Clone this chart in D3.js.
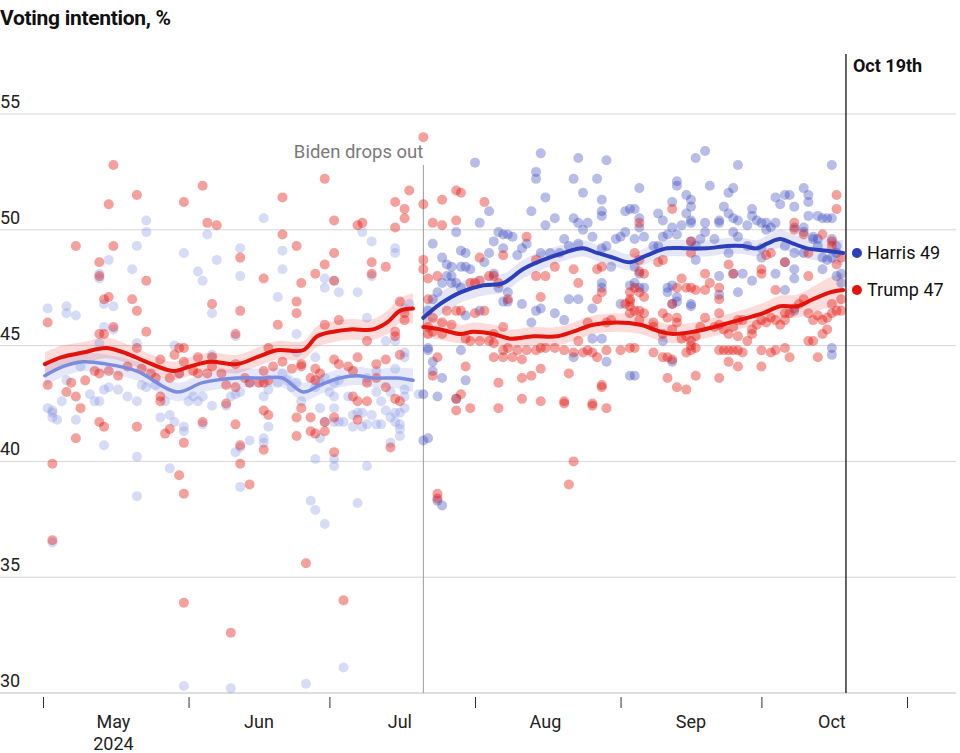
<!DOCTYPE html>
<html><head><meta charset="utf-8">
<script src="https://cdn.jsdelivr.net/npm/d3@7"></script>
<style>
body{margin:0;background:#fff;}
svg{display:block;font-family:Roboto,"Noto Sans",Arial,sans-serif;}
</style>
</head><body>
<svg id="chart" width="960" height="753"></svg>
<script>
// ---------- DATA ----------
const title = "Voting intention, %";
const yTicks = [30, 35, 40, 45, 50, 55];
const monthLabels = ["May", "Jun", "Jul", "Aug", "Sep", "Oct"];
const yearLabel = "2024";
// day offsets counted from 1 May 2024
const dropoutDay = 81;      // 21 Jul
const latestDay = 171;      // 19 Oct
const dropoutLabel = "Biden drops out";
const latestLabel = "Oct 19th";
const harrisLabel = "Harris 49";
const trumpLabel = "Trump 47";

// polls: [day, %]
const bidenPolls = [[22,50.4],[22,49.9],[20,49.3],[14,48.7],[30,49.0],[35,49.8],[37,48.7],[33,48.2],[34,47.8],[19,48.3],[12,48.1],[12,47.9],[13,46.8],[15,46.7],[1,46.6],[5,46.7],[5,46.4],[7,46.3],[42,49.2],[36,46.4],[42,48.0],[13,45.8],[15,45.7],[12,45.1],[20,45.1],[28,45.0],[41,45.4],[36,44.6],[8,44.1],[5,43.5],[10,42.9],[11,42.6],[12,42.6],[13,43.1],[14,43.2],[16,43.1],[18,42.8],[20,42.6],[21,43.3],[22,43.2],[24,43.3],[26,42.6],[29,43.8],[31,42.6],[32,42.8],[33,42.6],[34,42.8],[36,42.4],[39,42.4],[41,42.9],[4,42.6],[1,42.3],[2,42.2],
[2,42.1],[2,41.9],[3,41.8],[7,41.8],[13,40.7],[20,40.2],[25,41.9],[27,42.0],[28,41.7],[30,41.5],[30,41.3],[34,41.6],[27,39.7],[20,38.5],[2,36.5],[30,30.3],[40,30.2],[41,40.4],[42,38.9],
[47,50.5],[51,49.1],[51,48.3],[50,47.1],[60,47.9],[60,47.5],[62,47.8],[63,47.3],[67,47.3],[68,49.9],[70,49.5],[70,48.0],[75,49.2],[75,49.0],[69,46.2],[78,46.8],[77,46.6],[54,45.5],[58,44.5],[54,44.7],[73,45.2],[75,45.2],[77,44.7],[77,44.5],[75,44.0],[71,43.9],[69,43.6],[63,43.5],[60,43.6],[62,43.4],[58,43.2],[59,43.4],[54,43.4],[53,43.2],[52,43.5],[51,43.8],[50,43.4],[48,43.1],[47,42.8],[42,43.0],[40,42.8],[44,43.4],[65,42.8],[62,42.8],[61,43.0],[71,43.0],[72,42.6],[74,43.0],[77,43.1],[77,42.8],[80,42.9],[59,42.3],[62,42.3],
[55,42.6],[48,41.5],[44,40.9],[47,41.0],[47,40.8],[42,40.6],[59,41.0],[60,41.7],[62,41.7],[63,41.7],[64,41.7],[66,42.0],[67,42.1],[68,42.1],[70,42.0],[66,41.5],[68,41.5],[69,41.6],[71,41.6],[72,41.6],[73,42.2],[75,42.1],[76,42.1],[77,42.3],[74,41.9],[75,41.7],[76,41.6],[76,41.4],[76,41.1],[74,40.8],[58,40.1],[62,40.1],[62,39.8],[69,39.8],[57,38.3],[58,37.9],[60,37.3],[67,38.2],[64,31.1],[56,30.4]];

const trumpPollsPre = [[15,52.8],[20,51.5],[14,51.1],[34,51.9],[30,51.2],[35,50.3],[37,50.2],[7,49.3],[15,49.3],[12,48.6],[12,48.0],[22,47.8],[13,47.0],[14,47.1],[19,47.0],[20,46.5],[36,46.8],[42,46.5],[1,46.0],[22,45.6],[15,45.8],[12,45.5],[13,45.5],[20,44.9],[29,44.9],[30,44.9],[41,45.5],[28,44.6],[30,44.3],[33,44.5],[36,44.5],[25,44.4],[1,43.3],[5,43.0],[6,43.4],[7,42.8],[8,42.3],[9,43.5],[11,43.9],[12,43.8],[14,43.9],[16,43.7],[18,44.1],[21,44.0],[23,43.8],[24,43.6],[25,42.8],[27,43.6],[29,43.8],[32,43.9],[33,43.8],[35,43.8],[36,44.1],[38,43.8],[39,43.3],[39,42.5],[41,44.2],
[12,41.7],[13,41.5],[7,41.0],[20,41.5],[26,41.2],[27,41.4],[30,40.8],[34,41.7],[41,41.6],[2,39.9],[29,39.4],[30,38.6],[2,36.6],[30,33.9],[40,32.6],[42,40.7],[42,39.9],[25,42.6],
[60,52.2],[51,51.4],[78,51.7],[75,51.2],[77,50.9],[77,50.5],[62,50.4],[67,50.2],[68,50.3],[75,50.1],[51,49.8],[42,48.8],[54,49.3],[62,49.0],[60,48.5],[70,48.6],[73,48.4],[70,48.1],[58,48.1],[47,47.9],[55,47.7],[62,47.8],[54,46.9],[54,46.4],[50,45.9],[63,46.1],[60,45.9],[76,46.9],[77,46.4],[77,46.1],[75,45.6],[75,45.4],[69,45.2],[76,44.6],[73,44.4],[71,44.2],[67,44.5],[62,44.4],[63,44.2],[65,44.1],[66,43.9],[58,44.0],[59,43.8],[57,43.6],[58,43.5],[55,44.2],[55,44.1],[53,44.0],[51,44.3],[49,44.1],[47,43.9],[48,43.5],[48,44.9],[44,43.4],[46,43.4],[47,43.4],[43,43.6],[41,43.2],[69,43.4],[71,43.6],[66,42.8],[67,42.6],[75,42.7],[76,42.6],[73,43.2],[47,42.2],
[48,42.0],[55,42.3],[57,41.9],[54,41.9],[60,41.7],[60,41.3],[58,41.2],[57,41.3],[62,41.9],[67,41.8],[54,41.1],[47,40.5],[62,40.4],[74,40.6],[44,39.0],[56,35.6],[64,34.0],[69,42.6]];

const harrisPolls = [[106,53.3],[92,52.9],[114,53.1],[120,53.0],[105,52.5],[105,52.2],[113,52.2],[118,52.2],[115,51.6],[107,51.4],[119,51.3],[95,50.8],[104,50.8],[109,50.5],[113,50.5],[114,50.3],[116,50.3],[115,50.0],[119,50.8],[119,50.6],[124,50.8],[125,50.9],[93,50.3],[107,50.2],[88,49.9],[97,49.9],[98,49.8],[99,49.8],[100,49.7],[83,49.4],[103,49.4],[102,49.2],[101,48.9],[98,49.2],[96,49.5],[89,49.1],[90,49.0],[95,49.0],[106,49.0],[108,49.0],[110,49.0],[111,49.6],[112,49.3],[114,49.4],[117,49.7],[119,49.2],[120,49.3],[122,49.6],[123,49.7],[124,49.9],[85,48.8],[86,48.5],[87,48.4],[89,48.4],[90,48.4],[91,48.3],[94,48.6],[86,48.0],[85,47.7],[87,47.7],[88,47.7],[89,47.5],[87,48.0],[84,47.3],[83,47.0],[96,48.1],[97,47.5],[99,47.3],[99,46.9],[98,46.9],[102,46.8],[105,46.5],[106,46.6],[109,46.4],[111,46.1],[112,47.0],[114,47.0],[117,46.6],[119,47.7],[119,47.5],[121,48.4],[123,46.8],[125,47.6],[90,46.3],[104,46.0],[117,45.3],[119,45.3],[93,46.5],[82,46.5],[82,44.9],[82,44.8],[83,44.3],[83,43.9],[89,44.8],[85,43.6],[90,43.5],[88,42.7],[84,42.8],[81,42.9],[113,44.5],[120,44.3],[125,43.7],
[141,53.4],[139,53.1],[148,52.8],[168,52.8],[142,51.9],[127,51.8],[135,52.1],[135,51.9],[137,51.5],[138,51.3],[138,51.0],[134,51.2],[147,51.8],[146,51.6],[145,51.0],[146,50.7],[147,50.5],[126,50.9],[127,50.5],[127,50.1],[131,50.7],[132,50.4],[137,50.7],[138,50.4],[138,50.3],[141,50.3],[144,50.4],[144,50.3],[151,50.9],[151,50.6],[152,50.4],[153,50.3],[154,50.3],[156,50.3],[148,50.4],[150,50.2],[156,51.4],[157,51.1],[158,51.5],[159,51.5],[160,51.0],[162,51.8],[163,51.5],[163,51.2],[163,50.6],[165,50.6],[166,50.5],[167,50.5],[168,50.5],[134,50.1],[136,50.2],[135,49.8],[133,49.8],[132,49.7],[141,49.9],[140,49.6],[143,49.6],[147,49.9],[148,49.7],[155,50.1],[154,50.0],[160,50.1],[162,50.1],[162,49.9],[164,49.7],[165,49.6],[126,49.6],[128,49.7],[130,49.3],[131,49.3],[138,49.5],[139,49.3],[146,49.0],[150,49.3],[153,49.2],[153,48.8],[158,49.3],[160,49.0],[162,49.0],[164,49.6],[165,49.3],[168,49.6],[169,49.3],[169,49.0],[166,48.8],[168,48.8],[167,48.7],[126,48.4],[127,48.1],[139,48.7],[144,48.0],[147,48.1],[149,48.1],[156,48.1],[151,47.8],[160,48.3],[160,47.9],[158,47.4],[166,48.3],[126,47.7],[127,47.5],[128,47.5],[133,47.5],[133,47.3],[135,47.1],[135,46.9],[134,46.8],[134,47.6],[138,46.8],[138,46.7],[169,48.0],[170,48.1],[170,47.7],[168,44.9],[168,44.6],[132,45.2],[134,44.3],[126,43.7],[144,47.2],[160,46.5],[148,47.3],[158,48.6],
[84,38.3],[85,38.1],[81,40.9],[82,41.0]];

const trumpPollsPost = [[81,54.0],[81,51.1],[81,48.7],[81,48.3],
[85,51.3],[88,51.7],[89,51.6],[94,51.2],[83,50.3],[85,50.2],[88,50.4],[103,49.7],[98,48.9],[93,48.8],[105,48.7],[109,48.4],[107,48.0],[105,48.0],[113,48.3],[118,48.3],[119,48.4],[114,47.7],[95,48.0],[96,48.0],[97,47.7],[91,47.7],[92,47.7],[93,47.8],[84,48.0],[82,47.9],[106,47.1],[99,47.0],[119,47.3],[118,47.0],[82,47.0],[86,46.5],[88,46.5],[89,46.5],[92,46.4],[94,46.5],[125,47.0],[125,47.3],[125,46.7],[124,46.8],[98,45.8],[96,45.5],[116,46.0],[120,46.0],[121,46.1],[83,46.2],[82,45.8],[85,46.0],[87,45.9],[90,45.3],[91,45.2],[93,45.2],[95,45.2],[96,45.1],[98,44.8],[99,44.9],[101,44.8],[103,44.8],[105,44.8],[106,44.9],[107,44.9],[109,44.9],[111,44.8],[113,44.7],[114,45.2],[115,44.7],[116,44.8],[117,44.7],[118,44.5],[120,44.8],[123,44.8],[125,44.9],[82,45.5],[83,45.6],[85,45.5],[96,44.5],[98,44.5],[100,44.5],[102,44.4],[90,44.1],[83,43.7],[84,44.5],[97,43.4],[102,43.6],[104,43.7],[106,44.0],[112,43.8],[119,43.3],[119,43.2],[89,42.9],[88,42.7],[106,42.6],[102,42.7],[111,42.6],[111,42.5],[117,42.5],[117,42.4],[120,42.3],[91,42.3],[88,42.2],[97,42.3],
[134,50.9],[169,51.5],[169,50.9],[127,50.3],[138,49.5],[138,49.0],[146,48.5],[147,48.1],[153,48.3],[153,48.1],[154,48.9],[155,49.0],[156,47.4],[158,48.6],[160,50.3],[160,50.0],[162,49.8],[166,49.8],[168,49.3],[168,49.5],[163,48.0],[163,49.0],[169,48.5],[170,48.8],[126,49.0],[127,48.7],[128,48.1],[127,48.2],[126,47.5],[127,47.3],[128,47.1],[125,46.9],[126,46.5],[127,46.5],[131,48.6],[132,48.7],[135,47.5],[136,47.9],[137,47.5],[138,47.5],[139,47.4],[141,47.4],[141,48.1],[142,47.7],[144,47.5],[144,47.0],[132,46.4],[133,46.2],[134,46.8],[135,46.2],[135,46.0],[134,45.7],[136,45.3],[137,45.4],[138,45.0],[138,45.2],[139,45.4],[140,45.8],[141,46.2],[143,45.8],[125,46.4],[127,46.1],[128,46.4],[130,46.0],[130,45.8],[132,45.5],[126,44.9],[130,44.7],[132,44.5],[133,44.5],[133,43.6],[134,44.4],[135,43.2],[137,43.1],[139,43.7],[139,44.9],[137,44.7],[138,44.8],
[144,46.4],[144,45.9],[145,45.7],[146,45.5],[147,45.8],[148,45.4],[148,46.1],[149,46.1],[150,45.2],[151,45.5],[151,45.7],[152,45.9],[153,46.1],[154,46.0],[155,46.2],[156,46.1],[157,45.9],[158,46.4],[158,46.1],[159,46.4],[160,46.6],[161,46.8],[162,47.0],[163,46.4],[164,46.1],[165,46.3],[166,46.1],[167,46.2],[168,46.4],[168,46.8],[169,46.5],[170,47.0],[170,46.5],
[144,44.8],[145,44.8],[146,44.8],[147,44.8],[148,44.8],[149,44.7],[146,44.3],[148,44.1],[144,43.6],[153,44.8],[155,44.7],[156,44.8],[158,44.9],[159,44.5],[163,45.2],[164,45.2],[165,44.5],[166,45.5],[167,45.7],[153,44.1],
[84,38.6],[84,38.4],[113,40.0],[112,39.0]];

// trends: [day, %, half-width of uncertainty band]
const bidenTrend = [[0.4,43.7,.45],[4.3,44.1,.45],[8.5,44.3,.4],[13.6,44.2,.4],[20,43.9,.4],[28.5,43.0,.4],[34,43.4,.4],[41.3,43.6,.4],[46.9,43.6,.4],[51,43.6,.4],[55.4,43.0,.4],[59,43.3,.4],[63.3,43.6,.4],[66.9,43.7,.4],[70.3,43.6,.4],[75.4,43.6,.45],[78.8,43.5,.5]];
const trumpTrendPre = [[0.4,44.2,.5],[4,44.5,.5],[8.5,44.7,.45],[13.6,44.9,.45],[18.5,44.6,.4],[22,44.3,.4],[27.7,43.9,.4],[31.3,44.1,.4],[35.6,44.3,.4],[41.3,44.2,.4],[45.6,44.5,.4],[49.8,44.8,.4],[55.4,44.8,.4],[58.4,45.4,.45],[61.8,45.6,.45],[65.4,45.7,.45],[70.3,45.7,.45],[73.3,46.0,.5],[76,46.5,.55],[78.8,46.6,.65]];
const harrisTrend = [[81,46.2,.5],[84.6,46.8,.5],[88.9,47.3,.45],[93.7,47.6,.45],[98,47.7,.4],[102.2,48.3,.4],[106.5,48.7,.4],[110.8,49.0,.35],[115,49.2,.35],[118,49.0,.35],[121.4,48.8,.35],[125,48.6,.35],[128.6,48.9,.35],[132.9,49.2,.35],[137.2,49.2,.35],[141.4,49.2,.35],[145.7,49.3,.35],[149.1,49.3,.35],[152,49.2,.35],[154.2,49.4,.35],[157,49.6,.4],[159.8,49.4,.4],[162.7,49.2,.45],[167,49.1,.5],[170.4,49.0,.55]];
const trumpTrendPost = [[81,45.8,.45],[84.6,45.7,.45],[88.9,45.5,.4],[91.6,45.6,.4],[95.9,45.5,.4],[99.5,45.3,.4],[104.4,45.4,.4],[109.5,45.4,.4],[112.9,45.6,.4],[117.2,45.9,.4],[122.3,46.0,.4],[127.2,45.9,.4],[131.5,45.6,.4],[134.2,45.5,.4],[138.5,45.6,.4],[142.8,45.8,.4],[146.4,46.0,.4],[150,46.2,.4],[153.4,46.4,.45],[157,46.7,.45],[160.6,46.7,.5],[164,47.0,.55],[167.6,47.3,.65],[170.4,47.4,.75]];

// ---------- STYLE ----------
const RED = "#e3120b", HARRIS = "#2b3fba", BIDEN = "#7b8ce0";
const T0 = Date.UTC(2024, 4, 1);
const dayDate = d => new Date(T0 + d * 864e5);

const svg = d3.select("#chart");
const x = d3.scaleUtc().domain([new Date(Date.UTC(2024,4,1)), new Date(Date.UTC(2024,10,1))]).range([43, 907]);
const y = d3.scaleLinear().domain([30, 55]).range([693, 114]);

// title
svg.append("text").attr("x", 0).attr("y", 25).attr("font-size", 21).attr("font-weight", 700)
  .attr("fill", "#111").attr("letter-spacing", -0.3).text(title);

// gridlines + y labels
const g = svg.append("g");
g.selectAll("line.grid").data(yTicks).join("line").attr("class","grid")
  .attr("x1", 0).attr("x2", 956).attr("y1", d => y(d)).attr("y2", d => y(d))
  .attr("stroke", d => d === 30 ? "#bdbdbd" : "#d6d6d6").attr("stroke-width", 1);
g.selectAll("text.yl").data(yTicks).join("text").attr("class","yl")
  .attr("x", 0).attr("y", d => y(d) - 6).attr("font-size", 18).attr("fill", "#222").text(d => d);

// x axis ticks at month starts
const xAxis = d3.axisBottom(x).ticks(d3.utcMonth.every(1)).tickFormat("").tickSize(11).tickSizeOuter(0);
const ax = svg.append("g").attr("transform", "translate(0,697)").call(xAxis);
ax.select(".domain").remove();
ax.selectAll(".tick line").attr("stroke", "#333").attr("stroke-width", 1);
const months = d3.utcMonths(new Date(Date.UTC(2024,4,1)), new Date(Date.UTC(2024,10,1)));
svg.selectAll("text.ml").data(months).join("text").attr("class","ml")
  .attr("x", (d, i) => x(d3.utcDay.offset(d, 15)))
  .attr("y", 728).attr("text-anchor", "middle").attr("font-size", 18).attr("fill", "#222")
  .text((d, i) => monthLabels[i]);
svg.append("text").attr("x", x(d3.utcDay.offset(months[0], 15))).attr("y", 750)
  .attr("text-anchor", "middle").attr("font-size", 18).attr("fill", "#222").text(yearLabel);

// dropout marker
svg.append("line").attr("x1", x(dayDate(dropoutDay))).attr("x2", x(dayDate(dropoutDay)))
  .attr("y1", 165).attr("y2", 693).attr("stroke", "#9a9a9a").attr("stroke-width", 1);
svg.append("text").attr("x", x(dayDate(dropoutDay))).attr("y", 158).attr("text-anchor", "end")
  .attr("font-size", 18.5).attr("fill", "#7a7a7a").text(dropoutLabel);

// bands
function band(data, color, op) {
  const area = d3.area().curve(d3.curveCatmullRom)
    .x(d => x(dayDate(d[0]))).y0(d => y(d[1] - d[2])).y1(d => y(d[1] + d[2]));
  svg.append("path").datum(data).attr("d", area).attr("fill", color).attr("fill-opacity", op);
}
band(bidenTrend, BIDEN, 0.2);
band(trumpTrendPre, RED, 0.15);
band(harrisTrend, HARRIS, 0.13);
band(trumpTrendPost, RED, 0.15);

// dots
function dots(data, color, op) {
  svg.append("g").selectAll("circle").data(data).join("circle")
    .attr("cx", d => x(dayDate(d[0]))).attr("cy", d => y(d[1])).attr("r", 5)
    .attr("fill", color).attr("fill-opacity", op);
}
dots(bidenPolls, BIDEN, 0.3);
dots(trumpPollsPre, RED, 0.4);
dots(harrisPolls, HARRIS, 0.34);
dots(trumpPollsPost, RED, 0.4);

// trend lines
function trend(data, color, w) {
  const line = d3.line().curve(d3.curveCatmullRom).x(d => x(dayDate(d[0]))).y(d => y(d[1]));
  svg.append("path").datum(data).attr("d", line).attr("fill", "none")
    .attr("stroke", color).attr("stroke-width", w).attr("stroke-linecap", "round");
}
trend(bidenTrend, BIDEN, 3.5);
trend(trumpTrendPre, RED, 4);
trend(harrisTrend, HARRIS, 4);
trend(trumpTrendPost, RED, 4);

// latest marker
const xl = x(dayDate(latestDay));
svg.append("line").attr("x1", xl).attr("x2", xl).attr("y1", 54).attr("y2", 693)
  .attr("stroke", "#111").attr("stroke-width", 1.3);
svg.append("text").attr("x", xl + 7).attr("y", 72).attr("font-size", 18).attr("font-weight", 700)
  .attr("fill", "#111").text(latestLabel);

// end labels
const lastH = harrisTrend[harrisTrend.length - 1][1];
const lastT = trumpTrendPost[trumpTrendPost.length - 1][1];
[[lastH, HARRIS, harrisLabel], [lastT, RED, trumpLabel]].forEach(([v, c, t]) => {
  svg.append("circle").attr("cx", xl + 11).attr("cy", y(v)).attr("r", 5).attr("fill", c);
  svg.append("text").attr("x", xl + 21).attr("y", y(v) + 6).attr("font-size", 18).attr("fill", "#111").text(t);
});
</script>
</body></html>
